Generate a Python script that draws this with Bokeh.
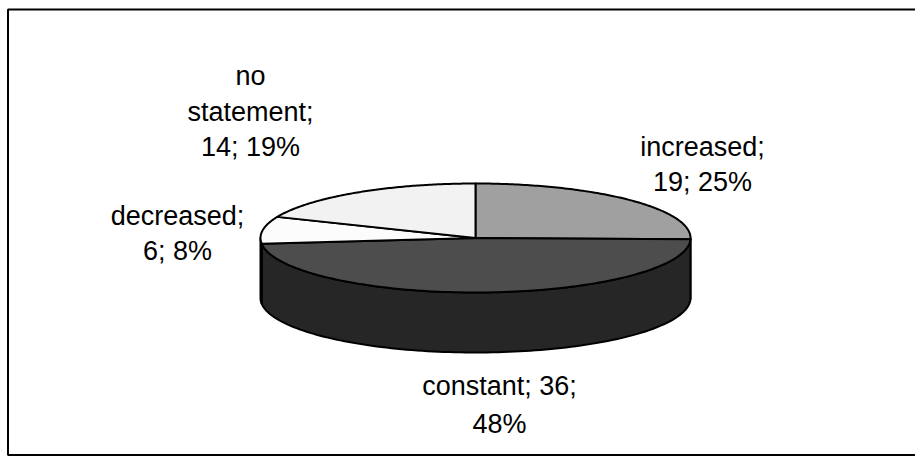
import numpy as np
from bokeh.plotting import figure
from bokeh.models import Range1d
from bokeh.core.properties import value
from bokeh.embed import file_html
from bokeh.resources import INLINE

# Survey answers, drawn clockwise from 12 o'clock
categories = ["increased", "constant", "decreased", "no statement"]
counts = [19, 36, 6, 14]

# Fill colours: top face and side wall of each slice
top_colors = ["#a0a0a0", "#4d4d4d", "#fcfcfc", "#f2f2f2"]
side_colors = ["#7a7a7a", "#262626", "#d9d9d9", "#cfcfcf"]

W, H = 915, 456
p = figure(width=W, height=H, output_backend="svg", toolbar_location=None,
           x_range=Range1d(0, W), y_range=Range1d(H, 0),
           min_border=0, outline_line_color=None)
p.axis.visible = False
p.grid.visible = False
p.background_fill_color = "white"
p.border_fill_color = "white"

# Chart area frame
p.line(x=[W + 2, 7.5, 7.5, W + 2], y=[9, 9, 454.5, 454.5],
       line_color="black", line_width=2)

# Pie geometry (screen pixels, y grows downward)
cx, cy = 475.0, 237.5
rx, ry = 215.0, 54.5
depth = 60.0

total = sum(counts)
sweeps = [360.0 * c / total for c in counts]
starts = 90.0 - np.concatenate([[0.0], np.cumsum(sweeps)[:-1]])
ends = starts - np.array(sweeps)


def arc(a0, a1, n=120, dy=0.0):
    t = np.radians(np.linspace(a0, a1, n))
    return cx + rx * np.cos(t), cy - ry * np.sin(t) + dy


# Side walls: only the front half of the rim (angles -180..0) is visible
side_xs, side_ys, side_fill = [], [], []
for lo, hi, col in zip(ends, starts, side_colors):
    for k in (-360.0, 0.0, 360.0):
        a, b = max(lo + k, -180.0), min(hi + k, 0.0)
        if b - a > 1e-6:
            tx, ty = arc(a, b)
            bx, by = arc(b, a, dy=depth)
            side_xs.append(np.concatenate([tx, bx]).tolist())
            side_ys.append(np.concatenate([ty, by]).tolist())
            side_fill.append(col)
p.patches(xs=side_xs, ys=side_ys, fill_color=side_fill,
          line_color="black", line_width=2, line_join="round")

# Top faces
top_xs, top_ys = [], []
for a0, a1 in zip(starts, ends):
    tx, ty = arc(a0, a1)
    top_xs.append([cx] + tx.tolist())
    top_ys.append([cy] + ty.tolist())
p.patches(xs=top_xs, ys=top_ys, fill_color=top_colors,
          line_color="black", line_width=2, line_join="round")

# Data labels "category; count; percent"
pcts = [int(round(100.0 * c / total)) for c in counts]
lines = {
    "increased": [f"{categories[0]};", f"{counts[0]}; {pcts[0]}%"],
    "constant": [f"{categories[1]}; {counts[1]};", f"{pcts[1]}%"],
    "decreased": [f"{categories[2]};", f"{counts[2]}; {pcts[2]}%"],
    "no statement": categories[3].split(" ")[:1]
    + [categories[3].split(" ")[1] + ";", f"{counts[3]}; {pcts[3]}%"],
}
# label anchor: centre x and baseline of each line
anchors = {
    "increased": (702, [146.5, 181.0]),
    "constant": (499, [385.5, 423.0]),
    "decreased": (177, [215.0, 250.0]),
    "no statement": (250, [75.0, 111.5, 146.5]),
}
lx, ly, lt = [], [], []
for cat in categories:
    x0, bases = anchors[cat]
    for txt, yb in zip(lines[cat], bases):
        lx.append(x0)
        ly.append(yb)
        lt.append(txt)
p.text(x=lx, y=ly, text=lt, text_font=value("Liberation Sans"),
       text_font_size="27px", text_color="black",
       text_align="center", text_baseline="alphabetic")

open("out.html", "w").write(file_html(p, INLINE))
